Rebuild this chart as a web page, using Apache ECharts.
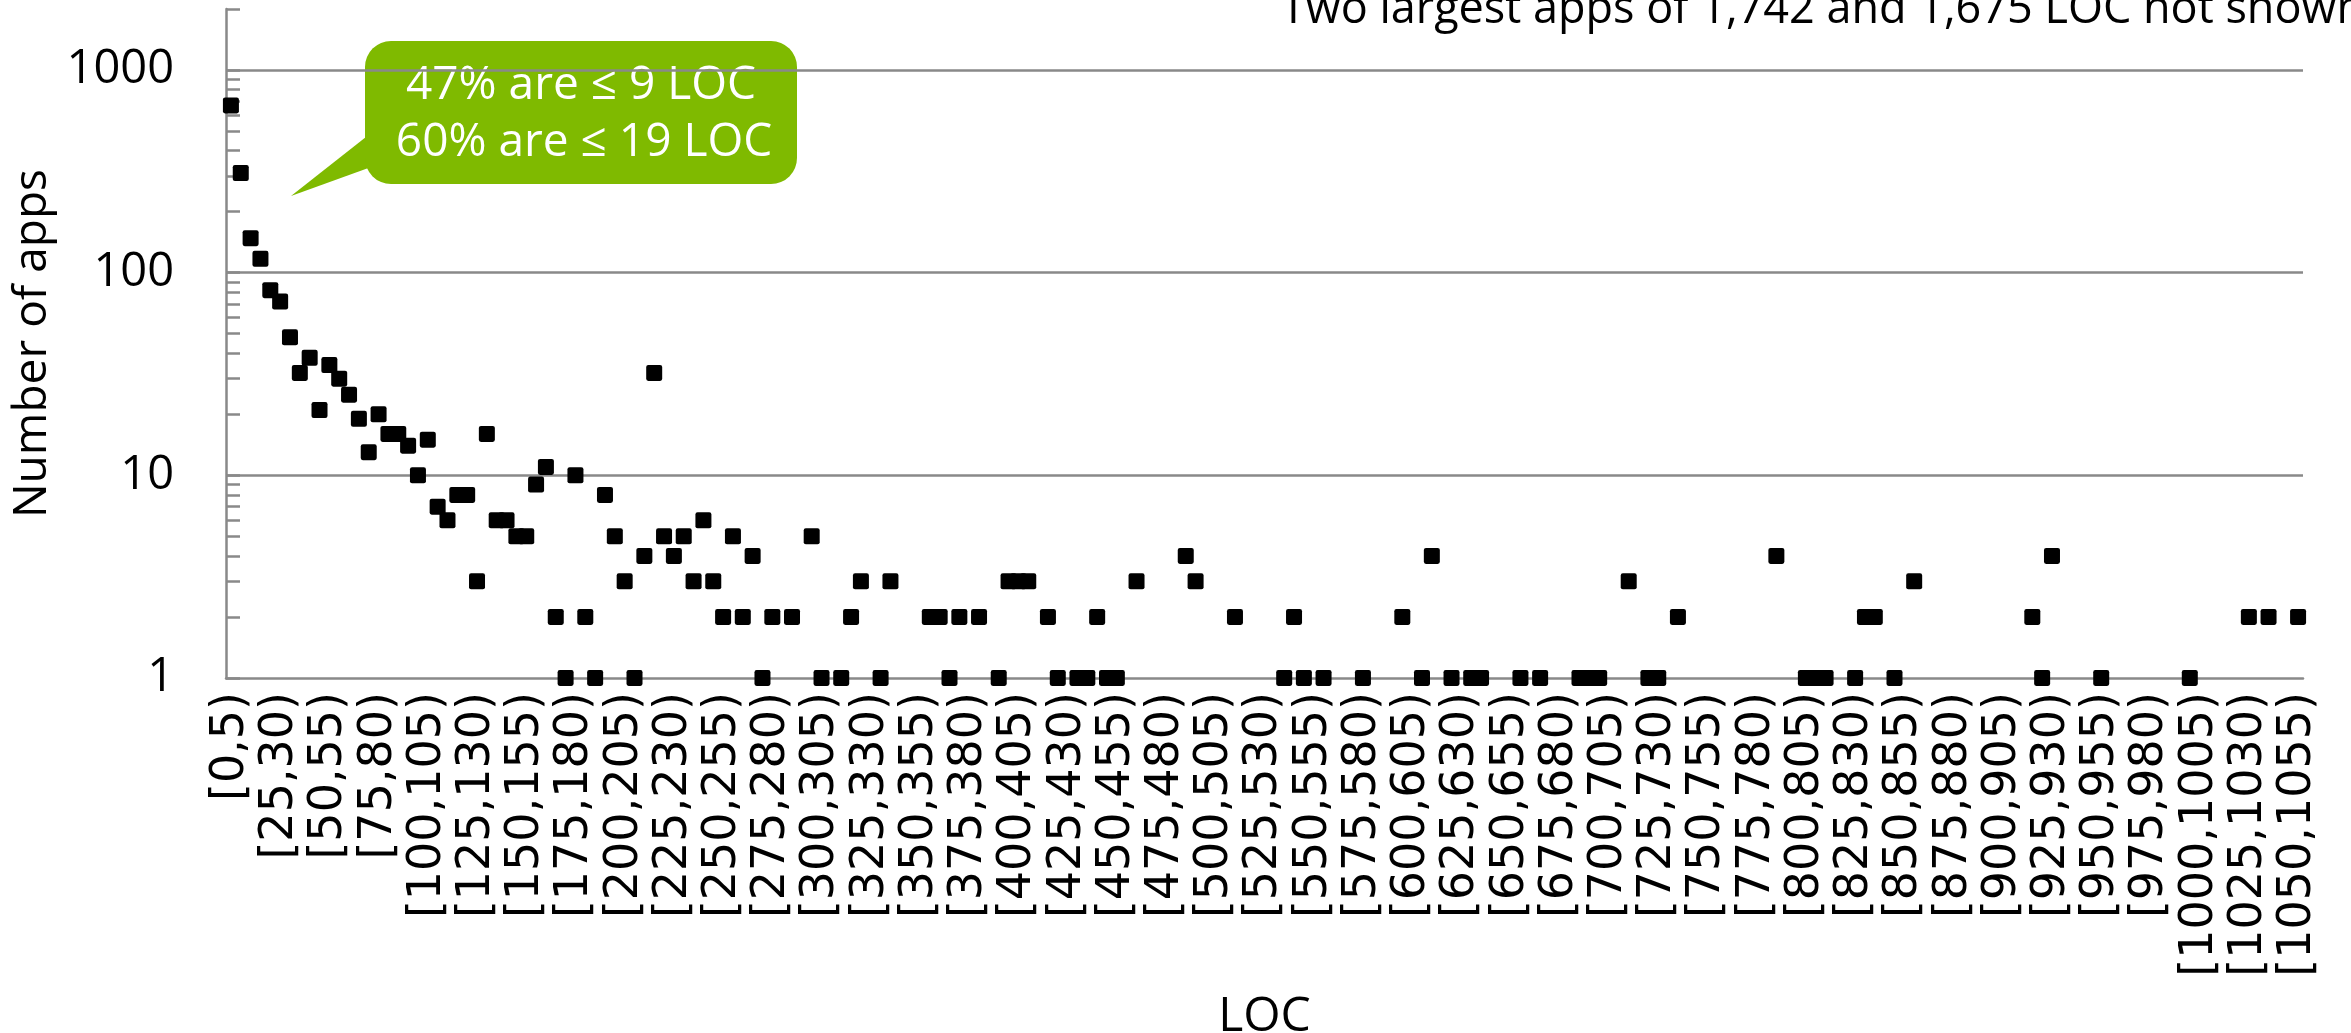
<!DOCTYPE html>
<html>
<head>
<meta charset="utf-8">
<script src="https://cdn.jsdelivr.net/npm/echarts@6/dist/echarts.min.js"></script>
<style>
  html, body { margin: 0; padding: 0; background: #fff; }
  #main { width: 2351px; height: 1033px; }
</style>
</head>
<body>
<div id="main"></div>
<script>
// LOC bins of width 5: [0,5) ... [1050,1055)
var binStarts = [];
for (var s = 0; s <= 1050; s += 5) binStarts.push(s);
var binLabels = binStarts.map(function (s) { return '[' + s + ',' + (s + 5) + ')'; });

// number of apps in each bin (null = no app in that bin)
var appCounts = [
  669, 310, 148, 117, 82, 72, 48, 32, 38, 21,
  35, 30, 25, 19, 13, 20, 16, 16, 14, 10,
  15, 7, 6, 8, 8, 3, 16, 6, 6, 5,
  5, 9, 11, 2, 1, 10, 2, 1, 8, 5,
  3, 1, 4, 32, 5, 4, 5, 3, 6, 3,
  2, 5, 2, 4, 1, 2, null, 2, null, 5,
  1, null, 1, 2, 3, null, 1, 3, null, null,
  null, 2, 2, 1, 2, null, 2, null, 1, 3,
  3, 3, null, 2, 1, null, 1, 1, 2, 1,
  1, null, 3, null, null, null, null, 4, 3, null,
  null, null, 2, null, null, null, null, 1, 2, 1,
  null, 1, null, null, null, 1, null, null, null, 2,
  null, 1, 4, null, 1, null, 1, 1, null, null,
  null, 1, null, 1, null, null, null, 1, 1, 1,
  null, null, 3, null, 1, 1, null, 2, null, null,
  null, null, null, null, null, null, null, 4, null, null,
  1, 1, 1, null, null, 1, 2, 2, null, 1,
  null, 3, null, null, null, null, null, null, null, null,
  null, null, null, 2, 1, 4, null, null, null, null,
  1, null, null, null, null, null, null, null, null, 1,
  null, null, null, null, null, 2, null, 2, null, null,
  2
];

// y axis: labelled decades and all tick marks (log scale)
var yLabels = [1, 10, 100, 1000];
var yTicks = [1, 2, 3, 4, 5, 6, 7, 8, 9,
  10, 20, 30, 40, 50, 60, 70, 80, 90,
  100, 200, 300, 400, 500, 600, 700, 800, 900,
  1000, 2000];

var gray = '#898989';
var chart = echarts.init(document.getElementById('main'));

var option = {
  animation: false,
  grid: { left: 226, right: 48, top: 9, bottom: 355, containLabel: false, outerBoundsMode: 'none' },
  xAxis: [{
    type: 'category',
    data: binLabels,
    boundaryGap: true,
    axisLine: { onZero: false, lineStyle: { color: gray, width: 2.5 } },
    axisTick: { interval: 1, length: 12, lineStyle: { color: gray, width: 2.5 } },
    axisLabel: {
      interval: 4, rotate: 90, margin: 14,
      fontFamily: 'DejaVu Sans', fontSize: 46, color: '#000'
    },
    splitLine: { show: false },
    name: 'LOC',
    nameLocation: 'middle',
    nameGap: 315,
    nameTextStyle: { fontFamily: 'Open Sans', fontSize: 48, color: '#000' }
  }, {
    // second axis only for the longer tick every 4 bins
    type: 'category',
    data: binLabels,
    boundaryGap: true,
    position: 'top',
    offset: -669,
    axisLine: { show: false },
    axisTick: { interval: 3, inside: true, length: 16, lineStyle: { color: gray, width: 2.5 } },
    axisLabel: { show: false },
    splitLine: { show: false }
  }],
  yAxis: {
    type: 'log',
    logBase: 10,
    min: 1,
    max: 2000,
    axisLine: { show: true, lineStyle: { color: gray, width: 2.5 } },
    axisTick: { show: true, inside: true, length: 14, customValues: yTicks,
      lineStyle: { color: gray, width: 2.5 } },
    axisLabel: {
      customValues: yLabels, margin: 52,
      fontFamily: 'Open Sans', fontSize: 47, color: '#000',
      formatter: function (v) { return yLabels.indexOf(Math.round(v)) >= 0 ? String(Math.round(v)) : ''; }
    },
    splitLine: { show: false },
    name: 'Number of apps',
    nameLocation: 'middle',
    nameGap: 165,
    nameRotate: 90,
    nameTextStyle: { fontFamily: 'Open Sans', fontSize: 46, color: '#000' }
  },
  series: [{
    // gridlines at the decades
    type: 'scatter',
    data: [],
    z: 1,
    silent: true,
    markLine: {
      silent: true,
      symbol: ['none', 'none'],
      label: { show: false },
      lineStyle: { color: gray, width: 2.5, type: 'solid', opacity: 1 },
      data: [{ yAxis: 10 }, { yAxis: 100 }, { yAxis: 1000 }]
    }
  }, {
    type: 'scatter',
    z: 5,
    data: appCounts,
    symbol: 'path://M2,0H13Q15,0 15,2V13Q15,15 13,15H2Q0,15 0,13V2Q0,0 2,0Z',
    symbolSize: 16,
    itemStyle: { color: '#000', opacity: 1 }
  }],
  graphic: [{
    type: 'group',
    children: [{
      type: 'polygon',
      shape: { points: [[385, 122], [291, 196], [385, 162]] },
      style: { fill: '#7FBA00' }
    }, {
      type: 'rect',
      shape: { x: 365, y: 41, width: 432, height: 143, r: 26 },
      style: { fill: '#7FBA00' }
    }, {
      type: 'text',
      style: {
        x: 581, y: 86, text: '47% are \u2264 9 LOC',
        fill: '#fff', font: '46px "Open Sans"', align: 'center', verticalAlign: 'middle'
      }
    }, {
      type: 'text',
      style: {
        x: 584, y: 143, text: '60% are \u2264 19 LOC',
        fill: '#fff', font: '46px "Open Sans"', align: 'center', verticalAlign: 'middle'
      }
    }]
  }, {
    type: 'text',
    style: {
      x: 1281, y: 10, text: 'Two largest apps of 1,742 and 1,675 LOC not shown',
      fill: '#000', font: '45px "Open Sans"', align: 'left', verticalAlign: 'middle'
    }
  }]
};

chart.setOption(option);
</script>
</body>
</html>
